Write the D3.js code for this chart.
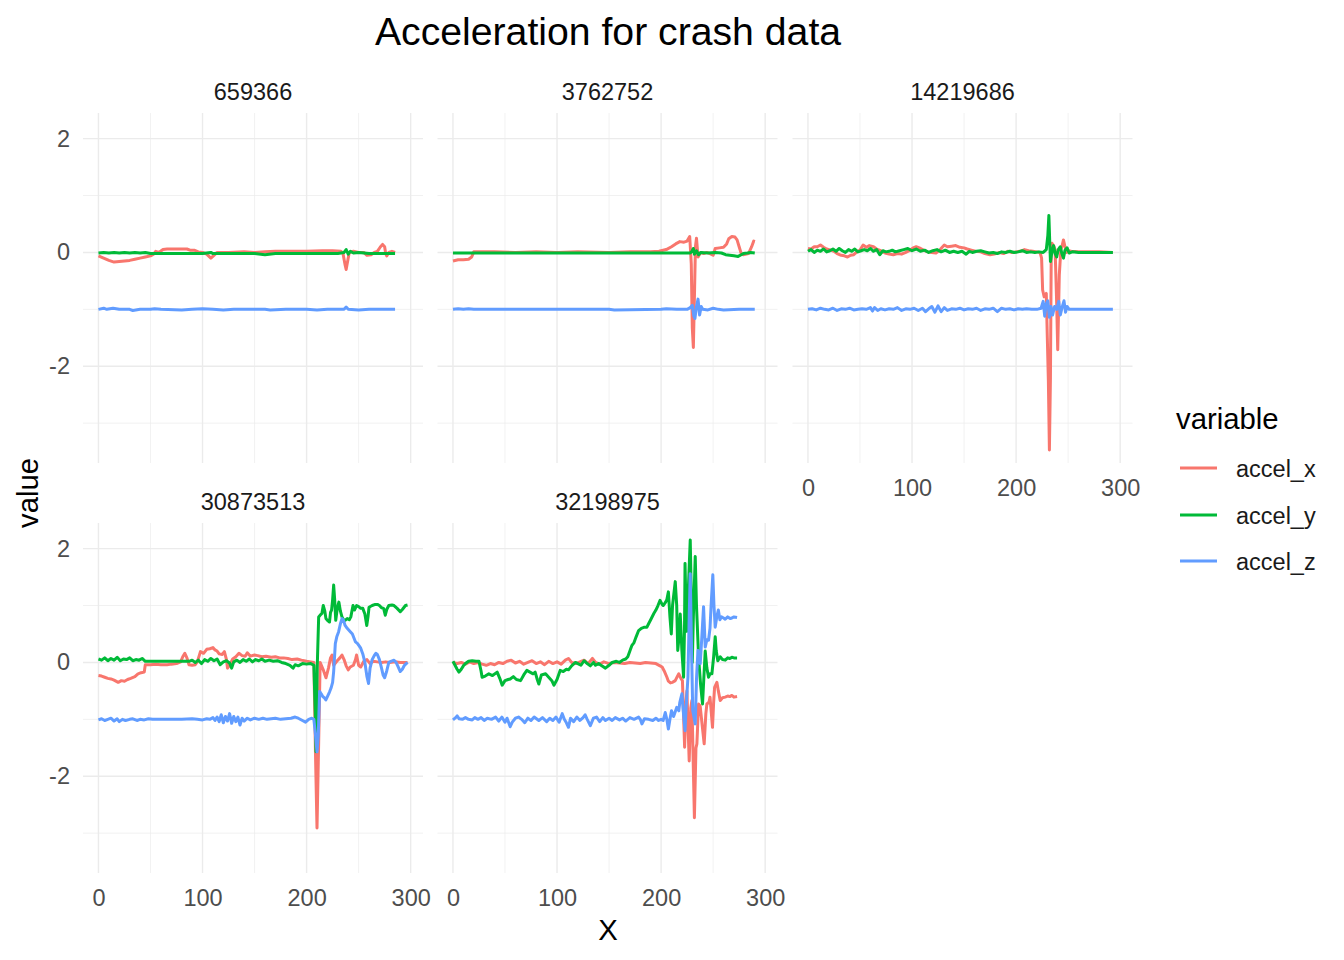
<!DOCTYPE html>
<html>
<head>
<meta charset="utf-8">
<script src="https://cdn.jsdelivr.net/npm/d3@7"></script>
<style>
body { margin: 0; background: #fff; }
text { font-family: "Liberation Sans", Arial, sans-serif; }
</style>
</head>
<body>
<svg id="chart" width="1344" height="960"></svg>
<script>
"use strict";

// ---- data ----
var panelIds = ['659366', '3762752', '14219686', '30873513', '32198975'];
var variables = ['accel_x', 'accel_y', 'accel_z'];
var colors = ['#F8766D', '#00BA38', '#619CFF'];
var xTicks = [0, 100, 200, 300];
var xMinor = [50, 150, 250];
var yTicks = [-2, 0, 2];
var yMinor = [-3, -1, 1];

var p659366_x = [[0,-0.06],[5,-0.1],[10,-0.14],[15,-0.17],[20,-0.16],[25,-0.15],[30,-0.14],[35,-0.12],[40,-0.1],[45,-0.08],[50,-0.06],[53,-0.03],[55,0.02],[58,0.0],[62,0.05],[66,0.06],[75,0.06],[85,0.06],[88,0.04],[92,0.04],[96,0.01],[100,0.0],[104,-0.03],[108,-0.1],[111,-0.05],[114,0.0],[125,0.0],[140,0.01],[150,0.0],[160,0.01],[170,0.02],[185,0.02],[200,0.02],[215,0.03],[225,0.03],[233,0.02],[235,-0.02],[237,-0.22],[238,-0.3],[239,-0.2],[241,0.0],[245,0.02],[250,0.0],[255,0.0],[258,-0.05],[262,-0.04],[265,0.0],[268,0.02],[271,0.1],[273,0.14],[275,0.1],[276,-0.02],[277,-0.06],[279,0.0],[282,0.02],[285,0.0]];
var p659366_y = [[0,-0.01],[5,0.0],[10,-0.01],[15,0.0],[20,-0.01],[25,0.0],[30,-0.01],[35,0.0],[40,-0.01],[45,0.0],[50,-0.02],[60,-0.02],[80,-0.02],[100,-0.02],[108,0.0],[110,-0.02],[150,-0.02],[160,-0.04],[170,-0.02],[200,-0.02],[230,-0.02],[236,0.0],[238,0.05],[240,-0.03],[242,0.02],[245,-0.01],[250,0.0],[260,-0.02],[285,-0.02]];
var p659366_z = [[0,-1.0],[5,-0.98],[8,-1.0],[14,-0.98],[20,-1.0],[30,-1.0],[33,-1.02],[40,-1.0],[50,-1.0],[54,-0.99],[60,-1.0],[80,-1.01],[90,-1.0],[100,-0.99],[110,-1.0],[120,-1.01],[130,-1.0],[160,-1.0],[165,-1.01],[180,-1.0],[200,-1.0],[210,-1.01],[220,-1.0],[236,-1.0],[238,-0.96],[240,-1.0],[250,-1.01],[260,-1.0],[285,-1.0]];

var p3762752_x = [[0,-0.15],[5,-0.13],[10,-0.13],[15,-0.12],[18,-0.08],[20,0.01],[40,0.01],[60,0.0],[80,0.01],[100,0.0],[120,0.01],[150,0.0],[170,0.01],[190,0.01],[198,0.02],[205,0.05],[210,0.1],[214,0.15],[218,0.19],[222,0.18],[225,0.2],[227.5,0.28],[229,-0.2],[230,-1.33],[231,-1.67],[232,-0.8],[233,0.1],[234,0.25],[235.5,-0.08],[238,0.0],[241,-0.02],[244,0.0],[247,-0.02],[250,-0.05],[252,0.07],[256,0.08],[260,0.09],[263,0.15],[265,0.24],[268,0.28],[271,0.27],[273,0.22],[275,0.1],[277,-0.02],[279,-0.04],[282,-0.03],[284,-0.02],[287,0.1],[289,0.2],[290,0.19]];
var p3762752_y = [[0,-0.01],[50,-0.01],[100,-0.01],[150,-0.01],[200,-0.01],[228,-0.01],[230,0.03],[231,0.07],[232,-0.03],[234,0.03],[236,-0.04],[238,0.0],[245,-0.01],[252,0.0],[258,-0.01],[262,-0.04],[266,-0.05],[270,-0.06],[274,-0.07],[277,-0.04],[279,-0.02],[283,-0.01],[286,0.0],[290,-0.01]];
var p3762752_z = [[0,-1.0],[5,-0.99],[10,-1.0],[15,-0.99],[20,-1.0],[28,-1.0],[100,-1.0],[150,-1.0],[155,-1.01],[200,-1.0],[205,-0.99],[215,-1.0],[225,-1.0],[228,-0.97],[230,-0.93],[231.5,-1.12],[232.5,-1.16],[234,-0.95],[235.5,-0.82],[237,-1.1],[238.5,-0.95],[240,-1.0],[245,-1.01],[250,-0.98],[255,-1.0],[260,-1.01],[275,-1.0],[290,-1.0]];

var p14219686_x = [[0,0.07],[3,0.06],[6,0.1],[9,0.1],[12,0.13],[15,0.09],[18,0.06],[22,0.04],[25,0.02],[28,-0.02],[32,-0.05],[35,-0.06],[38,-0.08],[41,-0.05],[44,-0.04],[47,0.01],[50,0.04],[53,0.13],[56,0.09],[59,0.12],[63,0.1],[66,0.06],[70,0.03],[74,-0.01],[78,-0.03],[82,-0.04],[86,-0.02],[90,-0.03],[94,0.0],[98,0.04],[101,0.08],[104,0.1],[107,0.08],[111,0.04],[115,0.01],[119,0.0],[123,-0.01],[127,0.05],[131,0.13],[134,0.1],[138,0.11],[142,0.12],[146,0.09],[150,0.08],[153,0.06],[157,0.04],[161,0.02],[166,0.01],[170,-0.02],[175,-0.04],[179,-0.03],[184,0.0],[188,-0.02],[192,0.02],[196,0.0],[200,0.01],[204,0.02],[208,0.05],[212,0.03],[216,0.02],[220,0.01],[223,0.0],[224.5,-0.1],[225.5,-0.66],[227,-0.78],[229,-0.72],[230,-1.5],[231,-2.24],[232,-3.47],[233,-2.2],[233.8,0.1],[234.5,0.16],[236,0.12],[237.5,0.05],[239,-0.9],[240,-1.71],[241.5,-0.4],[243,0.05],[244,0.1],[245.5,0.22],[247,0.1],[248.5,0.0],[250,0.03],[253,0.02],[260,0.01],[270,0.01],[280,0.01],[293,0.0]];
var p14219686_y = [[0,0.02],[3,0.05],[6,0.0],[9,0.04],[12,0.02],[15,0.06],[18,0.01],[21,0.03],[24,0.06],[27,0.02],[30,0.07],[33,0.03],[36,0.0],[39,0.05],[42,0.02],[45,0.06],[48,0.01],[51,0.03],[54,0.05],[57,0.03],[60,0.07],[63,0.02],[66,0.05],[69,-0.04],[72,0.03],[75,0.01],[78,0.02],[81,0.04],[84,0.01],[88,0.03],[92,0.05],[96,0.07],[100,0.03],[104,0.06],[108,0.02],[112,0.04],[116,0.0],[120,0.03],[124,0.05],[128,0.01],[132,0.04],[136,0.0],[140,0.02],[144,0.0],[148,0.02],[152,-0.03],[155,0.02],[158,0.0],[162,0.02],[166,0.03],[170,0.01],[174,-0.01],[178,0.0],[182,-0.02],[186,0.01],[190,0.0],[194,0.02],[198,0.0],[202,0.01],[206,0.03],[210,0.0],[214,0.01],[218,0.0],[222,0.01],[226,0.0],[229,0.05],[230.5,0.3],[231.5,0.65],[232.3,0.2],[233,-0.16],[234.5,0.02],[236,0.12],[237.5,-0.02],[239,-0.08],[240.5,0.05],[242.5,0.1],[244,-0.02],[245.5,-0.1],[247,0.04],[249,0.08],[251,-0.01],[254,0.01],[260,0.0],[270,0.0],[280,0.0],[293,0.0]];
var p14219686_z = [[0,-1.0],[4,-0.99],[8,-1.01],[12,-0.98],[16,-1.0],[20,-1.01],[24,-0.98],[28,-1.02],[32,-0.99],[36,-1.0],[40,-0.98],[44,-1.01],[48,-1.0],[52,-0.99],[56,-1.0],[60,-0.97],[62,-1.03],[64,-0.97],[67,-1.02],[70,-0.99],[74,-1.01],[78,-0.99],[82,-1.0],[86,-0.97],[90,-1.02],[94,-0.99],[98,-1.0],[102,-0.98],[106,-1.02],[110,-0.98],[113,-1.04],[116,-0.99],[119,-0.95],[122,-1.05],[125,-0.94],[128,-1.04],[131,-0.97],[134,-1.02],[138,-0.99],[142,-1.0],[146,-0.98],[150,-1.01],[154,-0.99],[158,-1.0],[162,-0.98],[166,-1.02],[170,-0.99],[174,-1.0],[178,-0.98],[182,-1.04],[186,-0.98],[190,-1.0],[194,-0.99],[198,-1.01],[202,-0.99],[206,-1.0],[210,-0.99],[215,-1.0],[220,-1.0],[224,-0.98],[226,-0.86],[227.5,-1.12],[229,-0.9],[230.5,-0.85],[232,-1.14],[233.5,-0.95],[235,-1.1],[237,-0.95],[239,-1.0],[241,-0.86],[242.5,-1.1],[244,-0.98],[246,-0.85],[247.5,-1.05],[249,-0.95],[251,-1.0],[255,-1.0],[270,-1.0],[293,-1.0]];

var p30873513_x = [[0,-0.23],[3,-0.24],[6,-0.26],[9,-0.28],[12,-0.29],[15,-0.31],[19,-0.35],[22,-0.32],[25,-0.33],[28,-0.3],[31,-0.28],[35,-0.25],[38,-0.2],[41,-0.18],[44,-0.17],[45,-0.04],[50,-0.04],[55,-0.03],[60,-0.04],[66,-0.04],[70,-0.03],[75,-0.02],[79,0.01],[81,0.1],[83,0.16],[85,0.08],[87,-0.04],[90,-0.05],[93,-0.04],[95,0.01],[98,0.19],[101,0.16],[104,0.23],[107,0.24],[110,0.26],[112,0.22],[114,0.2],[116,0.15],[119,0.14],[121,0.19],[123,0.05],[124,-0.1],[126,-0.05],[129,0.06],[132,0.1],[135,0.16],[138,0.12],[141,0.11],[143,0.17],[146,0.11],[150,0.13],[153,0.12],[157,0.1],[161,0.11],[166,0.09],[170,0.1],[174,0.08],[178,0.08],[182,0.07],[186,0.05],[191,0.06],[195,0.04],[200,0.02],[204,0.01],[207,0.0],[208.5,-1.57],[210,-2.91],[211.6,-1.4],[213,0.0],[216,-0.13],[218.6,-0.27],[221,-0.1],[223,0.08],[224.5,0.13],[226,-0.05],[229,0.02],[232,0.08],[234,0.13],[236,0.05],[238,-0.06],[240,-0.13],[242,-0.08],[245,-0.05],[247,0.05],[248,0.13],[250,-0.05],[252,-0.08],[255,0.02],[258,0.05],[261,-0.02],[264,0.02],[268,0.01],[272,0.0],[276,0.01],[280,0.0],[285,0.01],[290,0.0],[297,0.0]];
var p30873513_y = [[0,0.06],[3,0.04],[6,0.08],[9,0.03],[12,0.07],[15,0.04],[18,0.09],[21,0.03],[24,0.06],[27,0.05],[30,0.08],[33,0.03],[36,0.05],[39,0.04],[42,0.07],[45,0.02],[50,0.02],[60,0.02],[70,0.02],[80,0.02],[87,0.02],[90,0.04],[93,0.0],[96,0.04],[99,-0.02],[102,0.05],[105,0.02],[108,0.07],[111,0.03],[114,0.06],[117,-0.04],[120,0.01],[123,0.03],[126,-0.01],[128,-0.1],[130,0.01],[133,0.04],[136,0.0],[139,0.05],[142,0.02],[145,0.06],[148,0.01],[151,0.05],[154,0.03],[157,0.06],[160,0.02],[164,0.04],[168,0.02],[172,0.03],[176,0.0],[180,-0.02],[184,-0.05],[187,-0.1],[189,-0.04],[192,-0.06],[196,-0.02],[200,-0.03],[204,-0.02],[207,-0.05],[208.5,-1.0],[209,-1.57],[210.2,-0.1],[211.6,0.8],[213,0.83],[214.7,0.86],[216,1.0],[217.5,0.9],[218.6,0.77],[220,0.74],[222,0.71],[223,0.88],[224,0.92],[225,1.1],[226,1.36],[227,1.1],[228,0.74],[229.5,0.95],[231,1.06],[232.5,0.9],[234,0.8],[235.5,0.75],[237,0.74],[239,0.77],[241,0.75],[242.5,0.8],[244.6,1.0],[246,0.92],[248,1.0],[250,0.98],[252,0.95],[254,0.95],[256,0.85],[257.8,0.65],[259,0.8],[260,0.97],[263,1.0],[266,1.02],[268,1.02],[270,1.0],[272,0.96],[274,0.95],[275.6,0.83],[277,0.93],[279,1.0],[282,1.01],[284,1.0],[287,0.95],[290,0.89],[292,0.93],[295,1.0],[297,1.01]];
var p30873513_z = [[0,-1.01],[3,-0.99],[6,-1.02],[9,-1.0],[12,-0.98],[15,-1.03],[18,-0.99],[20,-1.04],[23,-1.0],[26,-1.02],[30,-1.0],[33,-0.99],[37,-1.02],[40,-1.0],[44,-1.01],[48,-0.99],[52,-1.0],[60,-1.0],[70,-1.0],[80,-1.0],[90,-0.99],[95,-1.0],[100,-1.01],[104,-0.99],[107,-1.0],[110,-0.97],[112,-1.02],[114,-0.96],[116,-1.04],[118,-0.92],[120,-1.06],[122,-0.95],[124,-1.03],[126,-0.9],[128,-1.07],[130,-0.95],[132,-1.04],[134,-0.96],[136,-1.1],[138,-0.98],[140,-1.03],[143,-0.98],[146,-1.01],[150,-0.98],[154,-1.0],[158,-0.98],[162,-1.0],[166,-0.99],[170,-0.98],[175,-1.0],[180,-0.99],[185,-0.98],[189,-0.96],[192,-0.98],[196,-1.02],[199,-1.05],[202,-1.0],[205,-0.98],[207,-1.0],[208.5,-1.27],[210,-1.57],[211.2,-1.3],[212.5,-0.51],[214,-0.55],[215.5,-0.6],[217,-0.62],[218.5,-0.66],[220,-0.6],[222,-0.52],[223.5,-0.45],[225,-0.35],[226,-0.16],[227.6,0.33],[229,0.45],[230.8,0.54],[232.5,0.68],[234,0.77],[235.5,0.74],[237,0.65],[239,0.6],[242,0.54],[244,0.5],[247,0.36],[249,0.33],[252,0.25],[254,0.15],[256,0.0],[258,-0.25],[259.5,-0.37],[261,-0.1],[263,0.05],[265,0.12],[266.5,0.16],[268,0.14],[270,0.05],[272,-0.1],[273.5,-0.22],[275,-0.27],[277,-0.15],[279,0.0],[281,0.02],[284,0.04],[286,0.0],[288,-0.08],[290,-0.16],[292,-0.12],[294,-0.05],[297,0.0]];

var p32198975_x = [[0,0.0],[4,-0.02],[8,0.0],[12,-0.03],[16,0.01],[20,-0.02],[24,0.0],[28,-0.03],[32,-0.05],[36,-0.02],[40,-0.04],[44,0.0],[48,-0.02],[52,0.02],[56,0.04],[60,-0.01],[64,0.02],[68,-0.03],[72,0.0],[76,0.03],[80,-0.02],[84,0.01],[88,-0.04],[92,0.02],[96,-0.02],[100,0.01],[104,-0.03],[108,0.04],[111,0.07],[114,0.0],[118,-0.02],[122,0.01],[126,0.04],[130,-0.02],[134,0.07],[137,0.0],[141,-0.03],[145,0.01],[150,-0.02],[155,0.0],[160,-0.01],[165,-0.02],[170,0.0],[175,-0.01],[180,-0.02],[185,0.0],[190,-0.01],[195,-0.02],[199,-0.06],[201,-0.08],[203,-0.15],[205.6,-0.26],[207,-0.33],[209,-0.36],[211,-0.35],[213.6,-0.32],[215.5,-0.25],[217,-0.2],[219,-0.28],[220.5,-0.32],[222.6,-1.49],[224,-0.7],[224.8,-0.5],[227,-1.73],[228.5,-0.8],[229.6,-0.67],[232,-2.73],[233.5,-1.5],[234.4,-1.43],[236,-0.73],[237.5,-0.76],[239,-1.02],[241.4,-1.43],[243,-0.9],[244,-0.73],[246,-0.7],[247,-0.61],[249.4,-1.14],[250.5,-0.7],[251.4,-0.44],[253.6,-0.35],[255,-0.5],[256.8,-0.67],[259,-0.62],[261.6,-0.61],[264,-0.59],[266,-0.6],[268,-0.58],[270,-0.61],[273,-0.6]];
var p32198975_y = [[0,0.02],[2,-0.05],[4,-0.12],[5.8,-0.17],[8,-0.12],[10,-0.06],[12,-0.02],[15,0.02],[18.5,0.03],[22,0.02],[25,0.02],[27,-0.15],[28,-0.26],[31,-0.24],[34.5,-0.2],[38,-0.23],[42.5,-0.17],[45,-0.28],[47.3,-0.4],[50,-0.32],[53,-0.3],[55,-0.29],[58,-0.25],[61,-0.3],[65,-0.32],[68,-0.22],[71,-0.14],[74,-0.17],[77,-0.2],[79,-0.17],[81,-0.3],[82.5,-0.38],[85,-0.22],[89,-0.2],[92,-0.26],[95,-0.32],[97,-0.4],[100,-0.3],[103,-0.14],[106,-0.16],[109,-0.12],[111,-0.13],[114,-0.06],[117.7,0.0],[120,-0.02],[123,-0.05],[126,0.03],[129,-0.02],[132,-0.06],[135,0.0],[137,-0.05],[140,-0.02],[143,-0.06],[146.5,-0.1],[150,-0.05],[153,0.0],[157,0.02],[160,0.0],[163,0.04],[166,0.06],[168,0.1],[170,0.2],[172,0.3],[174,0.35],[176,0.45],[178.4,0.56],[181,0.6],[184,0.62],[186.4,0.62],[188,0.68],[190,0.75],[193,0.86],[195,0.92],[197,1.0],[199,1.09],[201,1.02],[202,1.0],[204,1.05],[205.5,1.1],[207,1.24],[208.5,0.8],[209.8,0.5],[211,1.0],[213.6,1.42],[215,1.0],[216,0.21],[217,0.4],[218.4,0.85],[220,0.2],[221.6,-0.26],[222.5,0.6],[223,1.74],[224,0.9],[224.8,0.55],[226,1.2],[228,2.15],[229,1.2],[230,0.0],[231,0.8],[232.8,1.86],[234,1.0],[236,0.1],[238,-0.4],[239.8,-0.73],[241,-0.3],[242.4,0.2],[244,-0.1],[245.6,-0.26],[247,-0.2],[248.8,-0.2],[250.5,0.1],[252,0.45],[253,0.2],[254.5,0.03],[256.8,0.1],[259,0.05],[261.6,0.04],[264,0.08],[266,0.07],[268,0.09],[270,0.08],[273,0.08]];
var p32198975_z = [[0,-1.01],[2,-0.98],[4,-0.94],[6,-0.99],[9,-1.0],[12,-0.97],[15,-1.0],[18.5,-1.01],[21,-0.97],[24,-1.0],[27,-0.97],[30,-1.02],[33,-0.98],[37,-1.0],[41,-0.96],[44,-1.03],[47,-0.96],[50,-1.05],[52,-0.98],[55,-1.13],[57,-1.05],[60,-0.98],[63,-0.96],[66,-1.0],[69,-1.06],[72,-0.98],[75,-1.02],[78,-0.96],[82.5,-1.02],[86,-0.97],[90,-1.04],[93,-0.98],[96,-1.02],[99,-0.96],[102,-1.05],[105,-0.9],[107,-1.0],[109,-1.06],[111,-1.14],[113,-0.98],[116,-1.04],[119,-0.96],[122,-1.02],[125,-0.97],[127,-0.92],[129,-1.0],[132,-1.11],[135,-0.98],[138,-0.96],[141,-1.04],[144,-0.97],[146.5,-1.02],[150,-0.98],[153,-1.02],[156,-0.97],[160,-1.01],[163,-0.98],[166,-1.03],[170,-0.97],[174,-1.0],[178.4,-0.96],[180,-1.0],[181.6,-1.08],[184,-0.99],[188,-1.0],[192,-1.02],[195,-0.98],[197.6,-1.02],[200,-1.0],[202,-1.02],[204,-0.88],[205.5,-1.0],[207,-1.17],[208.5,-1.0],[210,-0.85],[212,-0.95],[215,-0.79],[217,-0.85],[218,-0.7],[220,-0.55],[221.5,-0.9],[223,-1.2],[224,-0.8],[225.8,-0.26],[227,0.8],[228,1.56],[229,0.5],[230.4,-0.85],[232.8,-1.08],[234,-0.3],[235.4,0.21],[237.6,-0.02],[239,0.4],[240.8,0.98],[242.4,0.27],[244,0.4],[245.6,0.39],[247,0.6],[248,0.98],[249.7,1.54],[250.8,1.0],[252,0.62],[253.5,0.8],[255,0.92],[256.5,0.75],[258,0.8],[260,0.78],[261.6,0.76],[264,0.8],[266.4,0.77],[268,0.78],[270,0.8],[273,0.79]];

var panelSeries = [
    [p659366_x, p659366_y, p659366_z],
    [p3762752_x, p3762752_y, p3762752_z],
    [p14219686_x, p14219686_y, p14219686_z],
    [p30873513_x, p30873513_y, p30873513_z],
    [p32198975_x, p32198975_y, p32198975_z]
];

// ---- layout ----
var panelW = 340, panelH = 350;
var colLeft = [83, 437.5, 792.5];
var rowTop = [113, 523];
var gridColor = '#EBEBEB';

var svg = d3.select('#chart');
svg.append('rect').attr('width', 1344).attr('height', 960).attr('fill', '#fff');

var x = d3.scaleLinear().domain([-14.85, 311.85]).range([0, panelW]);
var y = d3.scaleLinear().domain([-3.70, 2.45]).range([panelH, 0]);
var line = d3.line().x(function (d) { return x(d[0]); }).y(function (d) { return y(d[1]); });

function hasXAxis(i) {
    // bottom-most panel of each column
    return i + 3 >= panelIds.length;
}

panelIds.forEach(function (id, i) {
    var col = i % 3, row = Math.floor(i / 3);
    var g = svg.append('g').attr('transform', 'translate(' + colLeft[col] + ',' + rowTop[row] + ')');

    // grid
    g.selectAll('line.vminor').data(xMinor).enter().append('line')
        .attr('x1', x).attr('x2', x).attr('y1', 0).attr('y2', panelH)
        .attr('stroke', gridColor).attr('stroke-width', 0.7);
    g.selectAll('line.hminor').data(yMinor).enter().append('line')
        .attr('y1', y).attr('y2', y).attr('x1', 0).attr('x2', panelW)
        .attr('stroke', gridColor).attr('stroke-width', 0.7);
    g.selectAll('line.vmajor').data(xTicks).enter().append('line')
        .attr('x1', x).attr('x2', x).attr('y1', 0).attr('y2', panelH)
        .attr('stroke', gridColor).attr('stroke-width', 1.4);
    g.selectAll('line.hmajor').data(yTicks).enter().append('line')
        .attr('y1', y).attr('y2', y).attr('x1', 0).attr('x2', panelW)
        .attr('stroke', gridColor).attr('stroke-width', 1.4);

    // strip label
    g.append('text')
        .attr('x', panelW / 2).attr('y', -13)
        .attr('text-anchor', 'middle')
        .attr('font-size', '23.5px').attr('fill', '#1A1A1A')
        .text(id);

    // series, drawn x, y, z so z sits on top
    panelSeries[i].forEach(function (s, k) {
        g.append('path')
            .datum(s)
            .attr('d', line)
            .attr('fill', 'none')
            .attr('stroke', colors[k])
            .attr('stroke-width', 3)
            .attr('stroke-linejoin', 'round');
    });

    if (col === 0) {
        var ya = g.append('g').call(d3.axisLeft(y).tickValues(yTicks).tickSize(0).tickPadding(13)
            .tickFormat(function (d) { return String(d); }));
        ya.select('.domain').remove();
        ya.selectAll('text').attr('font-size', '23.5px').attr('fill', '#4D4D4D')
            .attr('font-family', '"Liberation Sans", Arial, sans-serif');
    }
    if (hasXAxis(i)) {
        var xa = g.append('g').attr('transform', 'translate(0,' + panelH + ')')
            .call(d3.axisBottom(x).tickValues(xTicks).tickSize(0).tickPadding(16)
                .tickFormat(function (d) { return String(d); }));
        xa.select('.domain').remove();
        xa.selectAll('text').attr('font-size', '23.5px').attr('fill', '#4D4D4D')
            .attr('font-family', '"Liberation Sans", Arial, sans-serif');
    }
});

// ---- titles ----
svg.append('text').attr('x', 608).attr('y', 45).attr('text-anchor', 'middle')
    .attr('font-size', '39.2px').attr('fill', '#000').text('Acceleration for crash data');
svg.append('text').attr('x', 608).attr('y', 940).attr('text-anchor', 'middle')
    .attr('font-size', '29.3px').attr('fill', '#000').text('X');
svg.append('text').attr('transform', 'translate(38,493) rotate(-90)').attr('text-anchor', 'middle')
    .attr('font-size', '29.3px').attr('fill', '#000').text('value');

// ---- legend ----
var legend = svg.append('g');
legend.append('text').attr('x', 1176).attr('y', 429)
    .attr('font-size', '29.3px').attr('fill', '#000').text('variable');
var keyY = [468, 515, 561];
variables.forEach(function (v, k) {
    legend.append('line')
        .attr('x1', 1180).attr('x2', 1217).attr('y1', keyY[k]).attr('y2', keyY[k])
        .attr('stroke', colors[k]).attr('stroke-width', 3);
    legend.append('text').attr('x', 1236).attr('y', keyY[k] + 9)
        .attr('font-size', '23.5px').attr('fill', '#1A1A1A').text(v);
});
</script>
</body>
</html>
